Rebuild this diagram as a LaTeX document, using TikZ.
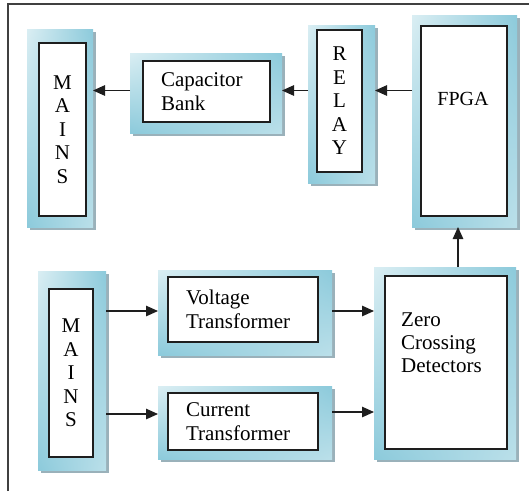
\documentclass[tikz,border=0pt]{standalone}
\usepackage{fontspec}
\setmainfont{Liberation Serif}
\usetikzlibrary{arrows.meta,shadows,shadings}

\definecolor{frameDark}{HTML}{8CCADB}
\definecolor{frameLight}{HTML}{DAEEF3}
\definecolor{shadowCol}{HTML}{9AB1BA}
\definecolor{lineCol}{HTML}{1E1E1E}

\tikzset{
  bevel/.style={draw=none, inner sep=0pt, outer sep=0pt,
    upper left=frameLight, lower right=frameLight!60!frameDark,
    upper right=frameDark, lower left=frameDark,
    drop shadow={shadow xshift=2.5pt, shadow yshift=-2.5pt,
                 fill=shadowCol, opacity=1}},
  innerbox/.style={draw=lineCol, line width=1.1pt, fill=white,
    inner sep=0pt, outer sep=0pt},
  txt/.style={font=\fontsize{21}{23.5}\selectfont},
  arr/.style={-{Triangle[length=12pt,width=10.5pt]}, line width=1.2pt, draw=lineCol},
}

\begin{document}
\begin{tikzpicture}[x=1pt,y=-1pt]
\useasboundingbox (0,0) rectangle (529,491);

% page frame (top and left rules)
\draw[line width=1.4pt, draw=black!75] (8,491) -- (8,4) -- (529,4);

% --- upper row: output side ---
\node[bevel, minimum width=66pt, minimum height=198pt] (mainsAfr) at (60,128) {};
\node[innerbox, txt, align=center, minimum width=47pt, minimum height=173pt]
  (mainsA) at (62.5,129.5) {M\\A\\I\\N\\S};

\node[bevel, minimum width=152pt, minimum height=80pt] (capfr) at (206,93) {};
\node[innerbox, txt, align=left, text width=91pt, minimum width=127pt, minimum height=61pt]
  (cap) at (206.5,91.5) {Capacitor\\Bank};

\node[bevel, minimum width=67pt, minimum height=158pt] (relayfr) at (341.5,104) {};
\node[innerbox, txt, align=center, minimum width=45pt, minimum height=142pt]
  (relay) at (339.5,101) {R\\E\\L\\A\\Y};

\node[bevel, minimum width=105pt, minimum height=212pt] (fpgafr) at (464.5,121) {};
\node[innerbox, minimum width=86pt, minimum height=190pt] (fpga) at (464,121) {};
\node[font=\fontsize{20}{22}\selectfont, inner sep=0pt] (fpgatxt) at (463,99) {FPGA};

% --- lower row: measuring side ---
\node[bevel, minimum width=68pt, minimum height=199pt] (mainsBfr) at (72,370.5) {};
\node[innerbox, txt, align=center, minimum width=44pt, minimum height=168pt]
  (mainsB) at (71,373) {M\\A\\I\\N\\S};

\node[bevel, minimum width=174pt, minimum height=85pt] (voltfr) at (245,312.5) {};
\node[innerbox, txt, align=left, text width=114pt, minimum width=150pt, minimum height=65pt]
  (volt) at (243,309.5) {Voltage\\Transformer};

\node[bevel, minimum width=174pt, minimum height=73pt] (currfr) at (245,422.5) {};
\node[innerbox, txt, align=left, text width=114pt, minimum width=150pt, minimum height=57pt]
  (curr) at (243,421.5) {Current\\Transformer};

\node[bevel, minimum width=142pt, minimum height=192pt] (zcdfr) at (445,363) {};
\node[innerbox, minimum width=122pt, minimum height=173pt] (zcd) at (446,362.5) {};
\node[font=\fontsize{21}{23}\selectfont, align=left, anchor=west, inner sep=0pt]
  (zcdtxt) at (401,343) {Zero\\Crossing\\Detectors};

% connector rows and column
\coordinate (rowTop) at (0,90.5);
\coordinate (rowV) at (0,311);
\coordinate (rowCa) at (0,414);
\coordinate (rowCb) at (0,412);
\coordinate (colUp) at (458,0);

\draw[arr] (capfr.west |- rowTop) -- (mainsAfr.east |- rowTop);
\draw[arr] (relayfr.west |- rowTop) -- (capfr.east |- rowTop);
\draw[arr] (fpgafr.west |- rowTop) -- (relayfr.east |- rowTop);
\draw[arr] (zcdfr.north -| colUp) -- (fpgafr.south -| colUp);

\draw[arr] (mainsBfr.east |- rowV) -- (voltfr.west |- rowV);
\draw[arr] (mainsBfr.east |- rowCa) -- (currfr.west |- rowCa);
\draw[arr] (voltfr.east |- rowV) -- (zcdfr.west |- rowV);
\draw[arr] (currfr.east |- rowCb) -- (zcdfr.west |- rowCb);
\end{tikzpicture}
\end{document}
